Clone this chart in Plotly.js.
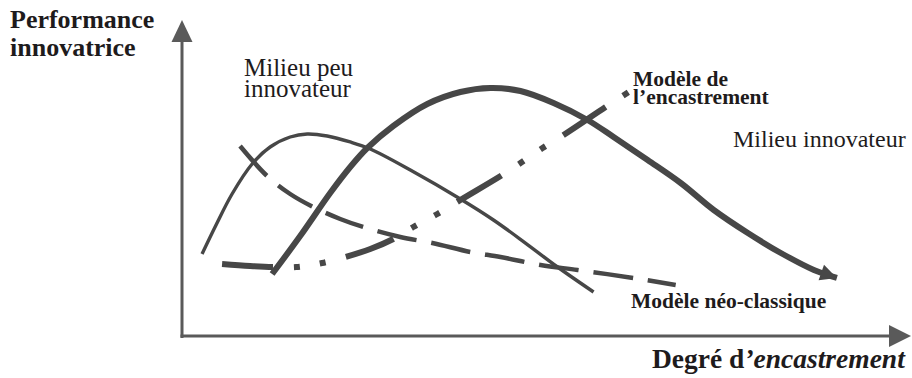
<!DOCTYPE html>
<html>
<head>
<meta charset="utf-8">
<script src="https://cdn.plot.ly/plotly-3.0.1.min.js"></script>
<style>
html,body{margin:0;padding:0;background:#fff;}
#chart{width:912px;height:378px;}
</style>
</head>
<body>
<div id="chart"></div>
<script>
// ---- Data (conceptual scale 0-100 on both axes) ----
// "Milieu peu innovateur" (thin solid curve)
const peuX = [2.83, 4.81, 7.07, 9.90, 12.45, 15.28, 17.68, 20.51, 23.76, 26.59, 32.25, 39.32, 43.99, 48.51, 53.04, 58.13];
const peuY = [27.89, 37.76, 48.30, 58.50, 64.29, 67.69, 68.71, 68.03, 65.99, 63.61, 56.46, 46.60, 39.46, 31.63, 23.47, 14.97];
// "Milieu innovateur" (thick solid curve with arrow)
const innovX = [12.73, 16.69, 20.93, 23.76, 26.17, 29.84, 34.65, 39.32, 43.56, 47.81, 52.48, 57.28, 60.96, 65.77, 70.44, 75.11, 79.92, 84.58, 89.25, 92.50];
const innovY = [21.09, 34.01, 48.64, 57.48, 63.95, 71.43, 78.91, 82.99, 84.35, 83.33, 79.25, 73.47, 67.69, 59.86, 52.04, 42.86, 35.03, 28.23, 22.45, 19.73];
// "Modèle néo-classique" (dashed curve)
const neoX = [8.20, 12.02, 15.28, 18.53, 22.35, 25.60, 30.83, 35.36, 40.74, 44.98, 50.64, 55.87, 63.79, 69.73];
const neoY = [64.63, 54.42, 48.30, 43.88, 39.80, 37.07, 33.67, 31.63, 28.57, 26.87, 24.15, 22.45, 19.73, 17.35];
// "Modèle de l'encastrement" (dash-dot curve)
const encX = [5.66, 9.62, 12.87, 16.12, 19.80, 23.06, 26.59, 29.84, 32.67, 36.07, 39.32, 45.00, 47.81, 50.92, 53.89, 59.83, 63.08];
const encY = [24.49, 23.81, 23.47, 23.47, 24.83, 26.87, 29.59, 32.99, 37.07, 41.50, 46.26, 54.42, 58.84, 63.95, 68.37, 77.89, 82.99];

// Text labels
const labels = {
  yTitle: ["Performance", "innovatrice"],
  peu: ["Milieu peu", "innovateur"],
  enc: ["Modèle de", "l’encastrement"],
  innov: "Milieu innovateur",
  neo: "Modèle néo-classique",
  xTitle: "Degré d<i>’encastrement</i>"
};

// ---- Layout geometry ----
const W = 912, H = 378;
const M = {l: 182, r: 22, t: 42, b: 42};
const PW = W - M.l - M.r, PH = H - M.t - M.b;
const px = x => (x - M.l) / PW;
const py = y => (H - M.b - y) / PH;

const curveCol = '#474747';
const axisCol = '#5a5a5a';
const textCol = '#1e1b1c';
const serif = '"Liberation Serif", "Times New Roman", Times, serif';

const traces = [
  {x: peuX, y: peuY, mode: 'lines', line: {color: curveCol, width: 3.4, shape: 'spline', smoothing: 1}},
  {x: neoX, y: neoY, mode: 'lines', line: {color: curveCol, width: 4.5, shape: 'spline', smoothing: 1, dash: '40px,15px'}},
  {x: encX, y: encY, mode: 'lines', line: {color: curveCol, width: 6, shape: 'spline', smoothing: 1, dash: '51px,21px,6px,20px,6px,21px'}},
  {x: innovX, y: innovY, mode: 'lines', line: {color: curveCol, width: 6, shape: 'spline', smoothing: 1}}
];

function ann(text, x, y, size, bold, anchor) {
  return {
    text: bold ? '<b>' + text + '</b>' : text,
    xref: 'paper', yref: 'paper', x: px(x), y: py(y),
    xanchor: anchor || 'left', yanchor: 'middle', showarrow: false,
    font: {family: serif, size: size, color: textCol}
  };
}

const nI = innovX.length;
const annotations = [
  ann(labels.yTitle[0], 8, 20, 26, true),
  ann(labels.yTitle[1], 8, 47, 26, true),
  ann(labels.peu[0], 242, 67, 25, false),
  ann(labels.peu[1], 242, 89, 25, false),
  ann(labels.enc[0], 631, 79, 21.5, true),
  ann(labels.enc[1], 631, 97, 21.5, true),
  ann(labels.innov, 908, 139, 24, false, 'right'),
  ann(labels.neo, 629, 301, 21.5, true),
  ann(labels.xTitle, 908, 358, 27.5, true, 'right'),
  // arrowhead at the end of the "Milieu innovateur" curve
  {x: innovX[nI - 1], y: innovY[nI - 1], ax: innovX[nI - 2], ay: innovY[nI - 2],
   xref: 'x', yref: 'y', axref: 'x', ayref: 'y', text: '', showarrow: true,
   arrowhead: 2, arrowsize: 1.5, arrowwidth: 2.2, arrowcolor: curveCol, standoff: 0}
];

const shapes = [
  // y axis
  {type: 'line', xref: 'paper', yref: 'paper', x0: 0, x1: 0, y0: py(338), y1: 1, line: {color: axisCol, width: 3}},
  {type: 'path', xref: 'paper', yref: 'paper',
   path: `M ${px(171.5)},${py(42)} L ${px(192.5)},${py(42)} L ${px(182)},${py(20)} Z`,
   fillcolor: axisCol, line: {width: 0}},
  // x axis
  {type: 'line', xref: 'paper', yref: 'paper', x0: px(180.5), x1: 1, y0: 0, y1: 0, line: {color: axisCol, width: 3}},
  {type: 'path', xref: 'paper', yref: 'paper',
   path: `M ${px(889)},${py(325)} L ${px(889)},${py(347)} L ${px(911)},${py(336)} Z`,
   fillcolor: axisCol, line: {width: 0}}
];

const layout = {
  width: W, height: H,
  margin: M,
  paper_bgcolor: '#fff', plot_bgcolor: '#fff',
  showlegend: false,
  xaxis: {range: [0, 100], showgrid: false, zeroline: false, showticklabels: false, showline: false, ticks: '', fixedrange: true},
  yaxis: {range: [0, 100], showgrid: false, zeroline: false, showticklabels: false, showline: false, ticks: '', fixedrange: true},
  annotations: annotations,
  shapes: shapes,
  hovermode: false
};

Plotly.newPlot('chart', traces, layout, {staticPlot: true, displayModeBar: false});
</script>
</body>
</html>
